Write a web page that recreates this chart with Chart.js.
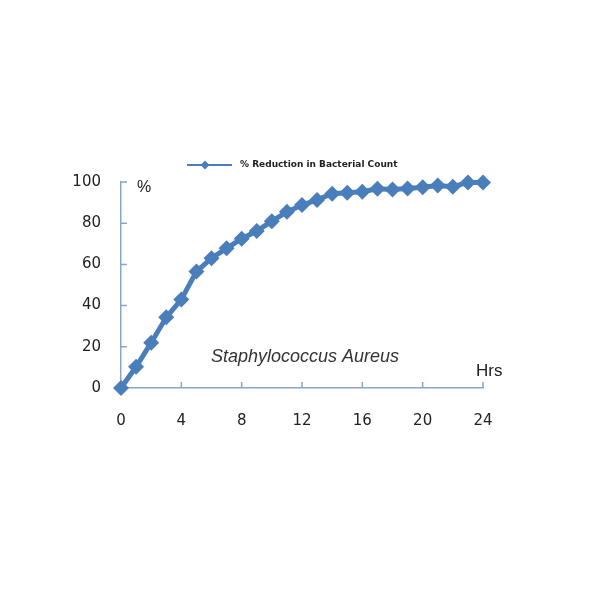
<!DOCTYPE html>
<html>
<head>
<meta charset="utf-8">
<script src="https://cdn.jsdelivr.net/npm/chart.js@4"></script>
<style>
  html, body { margin: 0; padding: 0; background: #fff; }
  #wrap { width: 600px; height: 600px; }
</style>
</head>
<body>
<div id="wrap"><canvas id="chart" width="600" height="600"></canvas></div>
<script>
// data
const hours = [0, 1, 2, 3, 4, 5, 6, 7, 8, 9, 10, 11, 12, 13, 14, 15, 16, 17, 18, 19, 20, 21, 22, 23, 24];
const reduction = [0, 10.3, 22, 34.3, 43, 56.5, 63, 67.8, 72.5, 76.2, 81, 85.5, 88.8, 91.3, 94.3, 94.8, 95.3, 96.7, 96.4, 96.9, 97.4, 98.3, 97.7, 99.8, 99.8];
const xTicks = [0, 4, 8, 12, 16, 20, 24];
const yTicks = [0, 20, 40, 60, 80, 100];
const seriesName = '% Reduction in Bacterial Count';

const blue = '#4a7ebb';
const axisColor = '#8aa6c6';

// inward tick marks + texts on the plot
const decorations = {
  id: 'decorations',
  afterDraw(chart) {
    const ctx = chart.ctx;
    const x = chart.scales.x, y = chart.scales.y;
    const area = chart.chartArea;
    ctx.save();
    ctx.strokeStyle = axisColor;
    ctx.lineWidth = 1.5;
    ctx.beginPath();
    xTicks.forEach(v => {
      if (v === 0) return;
      const px = x.getPixelForValue(v);
      ctx.moveTo(px, area.bottom);
      ctx.lineTo(px, area.bottom - 6);
    });
    yTicks.forEach(v => {
      if (v === 0) return;
      const py = y.getPixelForValue(v);
      ctx.moveTo(area.left, py);
      ctx.lineTo(area.left + 6, py);
    });
    ctx.stroke();

    // legend
    const ly = 165;
    ctx.strokeStyle = blue;
    ctx.lineWidth = 2;
    ctx.beginPath();
    ctx.moveTo(187, ly);
    ctx.lineTo(232, ly);
    ctx.stroke();
    ctx.fillStyle = blue;
    ctx.beginPath();
    ctx.moveTo(205, ly - 4.5);
    ctx.lineTo(209.5, ly);
    ctx.lineTo(205, ly + 4.5);
    ctx.lineTo(200.5, ly);
    ctx.closePath();
    ctx.fill();
    ctx.fillStyle = '#222';
    ctx.font = 'bold 9px "DejaVu Sans"';
    ctx.textBaseline = 'middle';
    ctx.textAlign = 'left';
    ctx.fillText(seriesName, 240, ly, 166);

    // labels
    ctx.font = '16px "Liberation Sans"';
    ctx.fillText('%', 137, 188);
    ctx.font = '17px "Liberation Sans"';
    ctx.fillText('Hrs', 476, 371);
    ctx.font = 'italic 18px "Liberation Sans"';
    ctx.textAlign = 'center';
    ctx.fillStyle = '#333';
    ctx.fillText('Staphylococcus Aureus', 305, 357, 212);
    ctx.restore();
  }
};

new Chart(document.getElementById('chart').getContext('2d'), {
  type: 'line',
  data: {
    datasets: [{
      label: seriesName,
      data: hours.map((h, i) => ({ x: h, y: reduction[i] })),
      borderColor: blue,
      backgroundColor: blue,
      borderWidth: 5,
      pointStyle: 'rectRot',
      pointRadius: 8,
      pointHoverRadius: 8,
      pointBorderWidth: 0,
      tension: 0,
      clip: false
    }]
  },
  options: {
    responsive: false,
    animation: false,
    layout: { padding: { left: 0, right: 117, top: 182, bottom: 0 } },
    plugins: { legend: { display: false }, tooltip: { enabled: false } },
    scales: {
      x: {
        type: 'linear',
        min: 0,
        max: 24,
        afterFit(scale) { scale.height = 212; },
        afterBuildTicks(scale) { scale.ticks = xTicks.map(v => ({ value: v })); },
        border: { color: axisColor, width: 1.5 },
        grid: { display: false },
        ticks: { padding: 16, color: '#222', font: { family: 'DejaVu Sans', size: 15 } }
      },
      y: {
        min: 0,
        max: 100,
        afterFit(scale) { scale.width = 121; },
        afterBuildTicks(scale) { scale.ticks = yTicks.map(v => ({ value: v })); },
        border: { color: axisColor, width: 1.5 },
        grid: { display: false },
        ticks: { padding: 12, color: '#222', font: { family: 'DejaVu Sans', size: 15 } }
      }
    }
  },
  plugins: [decorations]
});
</script>
</body>
</html>
